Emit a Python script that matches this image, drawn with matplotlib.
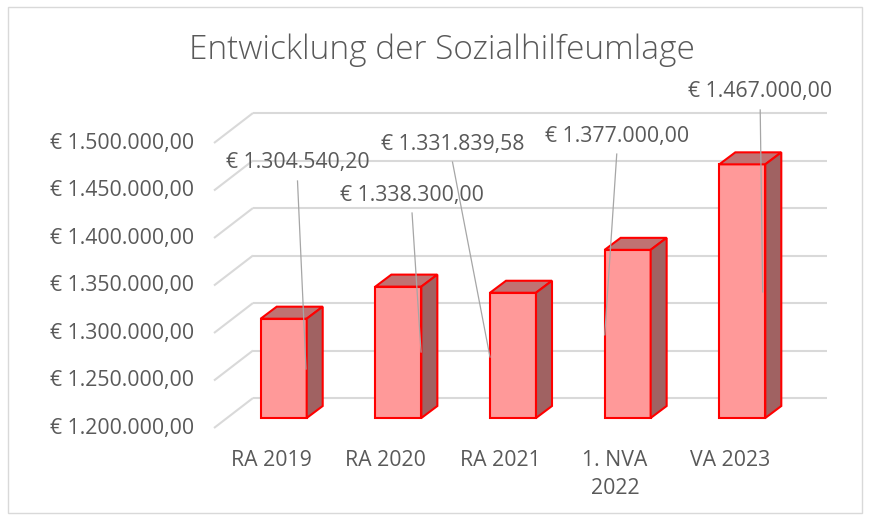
import matplotlib
matplotlib.use("Agg")
import matplotlib.pyplot as plt
from matplotlib.patches import Polygon, Rectangle

# ---------------- data ----------------
title = "Entwicklung der Sozialhilfeumlage"
categories = ["RA 2019", "RA 2020", "RA 2021", "1. NVA\n2022", "VA 2023"]
values = [1304540.20, 1338300.00, 1331839.58, 1377000.00, 1467000.00]
value_labels = ["€ 1.304.540,20", "€ 1.338.300,00", "€ 1.331.839,58",
                "€ 1.377.000,00", "€ 1.467.000,00"]
ticks = [1200000, 1250000, 1300000, 1350000, 1400000, 1450000, 1500000]
tick_labels = ["€ 1.200.000,00", "€ 1.250.000,00", "€ 1.300.000,00",
               "€ 1.350.000,00", "€ 1.400.000,00", "€ 1.450.000,00",
               "€ 1.500.000,00"]

# ---------------- layout (pixels) ----------------
W, H, DPI = 870, 520, 100
x0_px = 283.7          # centre of first bar
step_px = 114.65       # distance between bars
base_px = 102          # pixel height (from bottom) of axis minimum on bar plane
ppv = 47.5 / 50000     # pixels per value unit
bar_w_px = 46
depth_dx, depth_dy = 16, 12          # bar depth offset
back_dy = 20                          # back wall offset (up)
front_dy = 10                         # front floor edge offset (down)
back_x0, back_x1, front_x0 = 253, 827, 214
tick_x = 194
cat_dy, cat_dx, cat_line = 42, -12.5, 28
# label centre offsets from bar top-centre (dx right, dy up)
lab_off = [(13.8, 155.7), (13.7, 91.6), (-60.5, 148.7), (-10.9, 113.8), (17.9, 72.4)]
# leader line end offsets from bar top-centre (dx right, dy down)
lead_end = [(22.3, 50.3), (22.7, 65.4), (-23.0, 64.3), (-22.9, 85.0), (20.4, 127.6)]
lead_gap = 18

TXT = "#595959"
GRID = "#D9D9D9"
FRONT, TOP, SIDE, EDGE = "#FF9999", "#C07272", "#A06262", "#FF0000"
FONT = "Open Sans"
FS = 15.3

fig = plt.figure(figsize=(W / DPI, H / DPI), dpi=DPI)
ax = fig.add_axes([0, 0, 1, 1])
ax.axis("off")
ax.set_xlim(-x0_px / step_px, (W - x0_px) / step_px)
vmin = ticks[0] - base_px / ppv
ax.set_ylim(vmin, vmin + H / ppv)


def dx(px):
    return px / step_px


def dv(px):
    return px / ppv


# chart border
fig.patches.append(Rectangle((8 / W, 7 / H), 854 / W, 506 / H, transform=fig.transFigure,
                             fill=False, edgecolor=GRID, lw=1.0))

# gridlines (back wall + side floor)
xb0 = dx(back_x0 - x0_px)
xb1 = dx(back_x1 - x0_px)
xf0 = dx(front_x0 - x0_px)
for t, tl in zip(ticks, tick_labels):
    yb = t + dv(back_dy)
    yf = t - dv(front_dy)
    ax.plot([xb0, xb1], [yb, yb], color=GRID, lw=1.5, zorder=1, solid_capstyle="butt")
    ax.plot([xb0, xf0], [yb, yf], color=GRID, lw=1.5, zorder=1, solid_capstyle="butt")
    ax.text(dx(tick_x - x0_px), yf, tl, ha="right", va="center", color=TXT,
            fontsize=FS, family=FONT)

# bars
hw = dx(bar_w_px) / 2
ddx, ddv = dx(depth_dx), dv(depth_dy)
base = ticks[0]
for i, v in enumerate(values):
    l, r = i - hw, i + hw
    ax.add_patch(Rectangle((l, base), 2 * hw, v - base, facecolor=FRONT,
                           edgecolor=EDGE, lw=1.5, zorder=3, joinstyle="miter"))
    ax.add_patch(Polygon([(l, v), (r, v), (r + ddx, v + ddv), (l + ddx, v + ddv)],
                         closed=True, facecolor=TOP, edgecolor=EDGE, lw=1.5, zorder=3))
    ax.add_patch(Polygon([(r, base), (r, v), (r + ddx, v + ddv), (r + ddx, base + ddv)],
                         closed=True, facecolor=SIDE, edgecolor=EDGE, lw=1.5, zorder=3))

# data labels with leader lines
for i, (v, lab) in enumerate(zip(values, value_labels)):
    lx = i + dx(lab_off[i][0])
    ly = v + dv(lab_off[i][1])
    ax.text(lx, ly, lab, ha="center", va="center", color=TXT, fontsize=FS,
            family=FONT, zorder=5)
    ex = i + dx(lead_end[i][0])
    ey = v - dv(lead_end[i][1])
    ax.plot([lx, ex], [ly - dv(lead_gap), ey], color="#A6A6A6", lw=0.9, zorder=4)

# category labels
for i, c in enumerate(categories):
    for k, line in enumerate(c.split("\n")):
        ax.text(i + dx(cat_dx), base - dv(cat_dy + k * cat_line), line, ha="center",
                va="center", color=TXT, fontsize=FS, family=FONT)

# title
fig.text(442 / W, 1 - 50 / H, title, ha="center", va="center", color=TXT,
         fontsize=24, family=FONT, fontweight="light")

fig.savefig("out.png", dpi=DPI)
